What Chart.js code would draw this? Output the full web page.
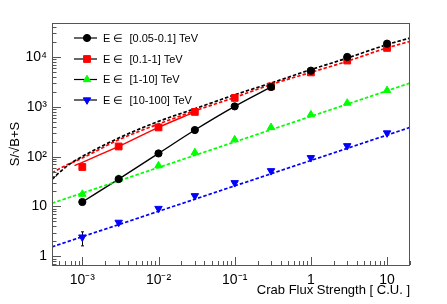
<!DOCTYPE html>
<html>
<head>
<meta charset="utf-8">
<script src="https://cdn.jsdelivr.net/npm/chart.js@4.4.0/dist/chart.umd.min.js"></script>
<style>
  html, body { margin: 0; padding: 0; background: #fff; }
</style>
</head>
<body>
<canvas id="chart" width="447" height="304"></canvas>
<script>
// flux points (Crab units) where the sensitivity was computed
const fluxes = [0.001, 0.003, 0.01, 0.03, 0.1, 0.3, 1, 3, 10];

// S/sqrt(B+S) per energy band
const sigBand1 = [12.3, 35.5, 116, 342, 1020, 2500, 5310, 10000, 18500]; // 0.05-0.1 TeV
const sigBand2 = [62, 160, 386, 790, 1510, 2570, 4900, 8480, 15200];    // 0.1-1 TeV
const sigBand3 = [17.7, 35.5, 66, 121, 219, 386, 695, 1190, 2140];      // 1-10 TeV
const sigBand4 = [2.43, 4.8, 9.1, 16.4, 29.9, 52, 95, 165, 298];        // 10-100 TeV

// error bar on the lowest blue point
const band4ErrX = [0.001];
const band4ErrLow = [1.62];
const band4ErrHigh = [3.1];

// solid curves through the low-flux points
const solid1X = [0.001, 0.003, 0.01, 0.03, 0.1, 0.3];
const solid1Y = [12.3, 35.5, 116, 342, 1020, 2500];
const solid2X = [0.00079, 0.003, 0.01, 0.03];
const solid2Y = [66, 160, 386, 790];

// dashed fit curves
const fit1X = [0.0004, 0.0005, 0.0006, 0.0008, 0.001, 0.003, 0.01, 0.03, 0.1, 0.3, 1, 3, 10, 20];
const fit1Y = [35, 48, 61, 83, 101, 236, 509, 915, 1740, 3000, 5560, 9500, 17700, 24000];
const fit2X = [0.0004, 0.0006, 0.001, 0.003, 0.01, 0.03, 0.1, 0.3, 1, 3, 10, 20];
const fit2Y = [47, 66, 94, 218, 451, 830, 1540, 2800, 4900, 8200, 15200, 20500];
const fit3X = [0.0004, 20];
const fit3Y = [11.6, 3000];
const fit4X = [0.0004, 20];
const fit4Y = [1.55, 386];

const legendLabels = ['E \u2208  [0.05-0.1] TeV', 'E \u2208  [0.1-1] TeV', 'E \u2208  [1-10] TeV', 'E \u2208  [10-100] TeV'];
const colors = ['#000000', '#ff0000', '#00ff00', '#0000ff'];

const xMajor = [0.001, 0.01, 0.1, 1, 10];
const xMajorLabels = ['10\u207B\u00B3', '10\u207B\u00B2', '10\u207B\u00B9', '1', '10'];
const yMajor = [1, 10, 100, 1000, 10000];
const yMajorLabels = ['1', '10', '10\u00B2', '10\u00B3', '10\u2074'];

const xMin = 0.0004, xMax = 20;
const yMin = 0.67, yMax = 48000;

Chart.defaults.font.family = '"Liberation Sans", Arial, Helvetica, sans-serif';

function logTicks(min, max) {
  const out = [];
  for (let e = -5; e <= 6; e++) {
    for (let m = 1; m <= 9; m++) {
      const v = parseFloat((m * Math.pow(10, e)).toPrecision(6));
      if (v >= min && v <= max) out.push(v);
    }
  }
  return out;
}

function pts(xs, ys) {
  return xs.map((x, i) => ({ x: x, y: ys[i] }));
}

const markerStyles = [
  { pointStyle: 'circle', pointRadius: 3.6, rotation: 0 },
  { pointStyle: 'rect', pointRadius: 4.8, rotation: 0 },
  { pointStyle: 'triangle', pointRadius: 4.3, rotation: 0 },
  { pointStyle: 'triangle', pointRadius: 4.3, rotation: 180 }
];

const bands = [sigBand1, sigBand2, sigBand3, sigBand4];

const markerSets = bands.map((b, i) => ({
  data: pts(fluxes, b),
  showLine: false,
  pointStyle: markerStyles[i].pointStyle,
  pointRadius: markerStyles[i].pointRadius,
  pointRotation: markerStyles[i].rotation,
  pointBackgroundColor: colors[i],
  pointBorderColor: colors[i],
  pointBorderWidth: 1,
  order: 0
}));

function lineSet(xs, ys, color, dashed) {
  return {
    data: pts(xs, ys),
    showLine: true,
    borderColor: color,
    borderWidth: dashed ? 1.7 : 1.4,
    borderDash: dashed ? [3.5, 2] : [],
    pointRadius: 0,
    cubicInterpolationMode: 'monotone',
    order: 5
  };
}

const lineSets = [
  lineSet(fit1X, fit1Y, colors[0], true),
  lineSet(fit2X, fit2Y, colors[1], true),
  lineSet(fit3X, fit3Y, colors[2], true),
  lineSet(fit4X, fit4Y, colors[3], true),
  lineSet(solid1X, solid1Y, colors[0], false),
  lineSet(solid2X, solid2Y, colors[1], false)
];

// ROOT-like frame with inward ticks
const framePlugin = {
  id: 'frame',
  afterDraw(chart) {
    const { ctx, chartArea: a, scales } = chart;
    ctx.save();
    ctx.strokeStyle = '#555';
    ctx.lineWidth = 1;
    ctx.strokeRect(a.left + 0.5, a.top + 0.5, a.right - a.left - 1, a.bottom - a.top);
    ctx.beginPath();
    scales.x.ticks.forEach(t => {
      const px = Math.round(scales.x.getPixelForValue(t.value)) + 0.5;
      const len = xMajor.includes(t.value) ? 8 : 4;
      ctx.moveTo(px, a.bottom);
      ctx.lineTo(px, a.bottom - len);
    });
    scales.y.ticks.forEach(t => {
      const py = Math.round(scales.y.getPixelForValue(t.value)) + 0.5;
      const len = yMajor.includes(t.value) ? 9 : 4.5;
      ctx.moveTo(a.left, py);
      ctx.lineTo(a.left + len, py);
    });
    ctx.stroke();
    ctx.restore();
  }
};

const errorPlugin = {
  id: 'errors',
  beforeDatasetsDraw(chart) {
    const { ctx, scales } = chart;
    ctx.save();
    ctx.strokeStyle = '#000';
    ctx.lineWidth = 1;
    ctx.beginPath();
    band4ErrX.forEach((x, i) => {
      const px = Math.round(scales.x.getPixelForValue(x)) + 0.5;
      const lo = scales.y.getPixelForValue(band4ErrLow[i]);
      const hi = scales.y.getPixelForValue(band4ErrHigh[i]);
      ctx.moveTo(px, lo); ctx.lineTo(px, hi);
      ctx.moveTo(px - 1.5, lo); ctx.lineTo(px + 1.5, lo);
      ctx.moveTo(px - 1.5, hi); ctx.lineTo(px + 1.5, hi);
    });
    ctx.stroke();
    ctx.restore();
  }
};

const legendPlugin = {
  id: 'rootLegend',
  afterDraw(chart) {
    const { ctx } = chart;
    const x0 = 74, x1 = 97, xm = 87, xt = 103;
    const rows = [38, 59, 79.5, 100];
    ctx.save();
    legendLabels.forEach((label, i) => {
      const y = rows[i];
      ctx.strokeStyle = '#000';
      ctx.lineWidth = 1.2;
      ctx.setLineDash([]);
      ctx.beginPath();
      ctx.moveTo(x0, y); ctx.lineTo(x1, y);
      ctx.stroke();
      ctx.fillStyle = colors[i];
      ctx.strokeStyle = colors[i];
      ctx.lineWidth = 1;
      Chart.helpers.drawPoint(ctx, {
        pointStyle: markerStyles[i].pointStyle,
        radius: markerStyles[i].pointRadius,
        rotation: markerStyles[i].rotation,
        borderWidth: 1
      }, xm, y);
      ctx.fillStyle = '#000';
      ctx.font = '11px "Liberation Sans", Arial, sans-serif';
      ctx.textBaseline = 'middle';
      ctx.textAlign = 'left';
      ctx.fillText(label, xt, y + 0.5);
    });
    ctx.restore();
  }
};

new Chart(document.getElementById('chart'), {
  type: 'line',
  data: { datasets: markerSets.concat(lineSets) },
  plugins: [errorPlugin, framePlugin, legendPlugin],
  options: {
    responsive: false,
    animation: false,
    layout: { padding: { top: 23, right: 37, left: 0, bottom: 0 } },
    plugins: { legend: { display: false }, tooltip: { enabled: false } },
    scales: {
      x: {
        type: 'logarithmic',
        min: xMin,
        max: xMax,
        afterBuildTicks: s => { s.ticks = logTicks(xMin, xMax).map(v => ({ value: v })); },
        afterFit: s => { s.height = 39; },
        grid: { display: false, drawTicks: false },
        border: { display: false },
        ticks: {
          autoSkip: false,
          maxRotation: 0,
          padding: 7,
          color: '#000',
          font: { size: 14 },
          callback: v => { const k = xMajor.indexOf(v); return k >= 0 ? xMajorLabels[k] : ''; }
        },
        title: {
          display: true,
          text: 'Crab Flux Strength [ C.U. ]',
          align: 'end',
          color: '#000',
          font: { size: 13 },
          padding: { top: 0, bottom: 6 }
        }
      },
      y: {
        type: 'logarithmic',
        min: yMin,
        max: yMax,
        afterBuildTicks: s => { s.ticks = logTicks(yMin, yMax).map(v => ({ value: v })); },
        afterFit: s => { s.width = 52; },
        grid: { display: false, drawTicks: false },
        border: { display: false },
        ticks: {
          autoSkip: false,
          padding: 5,
          color: '#000',
          font: { size: 14 },
          callback: v => { const k = yMajor.indexOf(v); return k >= 0 ? yMajorLabels[k] : ''; }
        },
        title: {
          display: true,
          text: 'S/\u221AB+S',
          color: '#000',
          font: { size: 13 },
          padding: { top: 8, bottom: 0 }
        }
      }
    }
  }
});
</script>
</body>
</html>
